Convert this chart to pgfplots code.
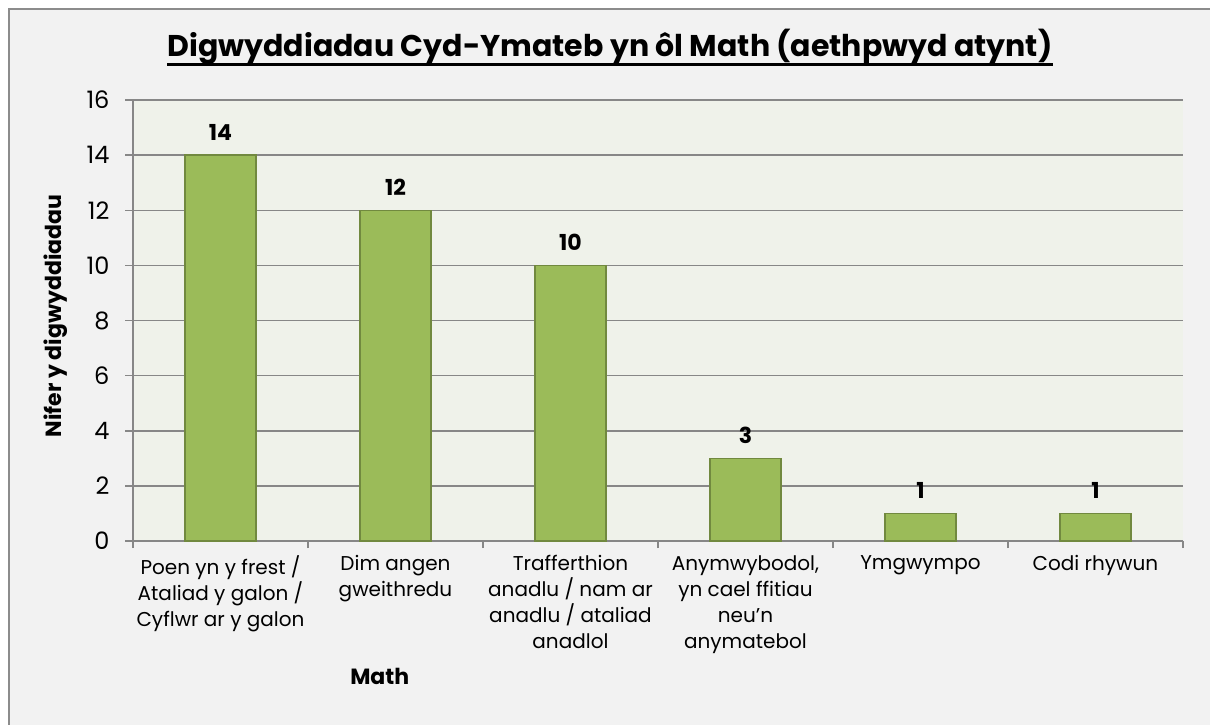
\documentclass[border=0pt]{standalone}
\usepackage{fontspec}
\setmainfont{Poppins}
\usepackage{pgfplots}
\pgfplotsset{compat=1.18}
\definecolor{barfill}{HTML}{9BBB59}
\definecolor{barline}{HTML}{71893F}
\definecolor{plotbg}{HTML}{EFF2EA}
\definecolor{chartbg}{HTML}{F2F2F2}
\definecolor{axgray}{HTML}{878787}
\definecolor{framegray}{HTML}{8C8C8C}
\begin{document}
\begin{tikzpicture}[x=1pt,y=1pt]
\useasboundingbox (0,0) rectangle (1210,724);
\begin{scope}
\clip (0,0) rectangle (1210,724);
\fill[white] (0,0) rectangle (1210,724);
\draw[fill=chartbg, draw=framegray, line width=2.5pt] (9,-20) rectangle (1240,715);
\end{scope}
\begin{axis}[
  at={(133pt,183pt)}, anchor=south west,
  scale only axis, width=1050pt, height=441pt,
  xmin=-0.5, xmax=5.5, ymin=0, ymax=16,
  ytick={0,2,...,16},
  xtick={0,...,5},
  minor xtick={-0.5,0.5,...,5.5},
  xticklabels={{Poen yn y frest /\\Ataliad y galon /\\Cyflwr ar y galon},
               {Dim angen\\gweithredu},
               {Trafferthion\\anadlu / nam ar\\anadlu / ataliad\\anadlol},
               {Anymwybodol,\\yn cael ffitiau\\neu'n\\anymatebol},
               {Ymgwympo},
               {Codi rhywun}},
  axis x line*=bottom, axis y line*=left,
  axis line style={-, axgray, line width=1.5pt},
  axis background/.style={fill=plotbg},
  tick align=outside,
  major tick length=8pt, minor tick length=7pt,
  major x tick style={draw=none},
  minor x tick style={axgray, line width=1.5pt},
  major y tick style={axgray, line width=1.5pt},
  ymajorgrids, grid style={axgray, line width=1.5pt},
  /pgf/number format/assume math mode=true,
  yticklabel style={font=\fontsize{24}{28}\selectfont, black, xshift=-12pt},
  xticklabel style={font=\fontsize{20}{26}\selectfont, black, align=center, yshift=-3pt},
  ybar, bar width=71pt,
  nodes near coords,
  nodes near coords style={font=\bfseries\fontsize{22}{26}\selectfont, black, inner sep=0pt, yshift=14pt},
  clip=false,
  ylabel={\bfseries Nifer y digwyddiadau},
  every axis y label/.style={at={(axis description cs:-0.074,0.51)}, rotate=90, anchor=center, font=\fontsize{22}{26}\selectfont},
  xlabel={\bfseries Math},
  every axis x label/.style={at={(axis description cs:0.235,-0.308)}, anchor=center, font=\fontsize{22}{26}\selectfont},
]
\addplot[fill=barfill, draw=barline, line width=1.5pt] coordinates {(0,14) (1,12) (2,10) (3,3) (4,1) (5,1)};
\end{axis}
\node[anchor=base, font=\bfseries\fontsize{30}{34}\selectfont, inner sep=0pt] (T) at (610,667) {Digwyddiadau Cyd-Ymateb yn ôl Math (aethpwyd atynt)};
\draw[line width=3pt] ([yshift=-8pt]T.base west) -- ([yshift=-8pt]T.base east);
\end{tikzpicture}
\end{document}
